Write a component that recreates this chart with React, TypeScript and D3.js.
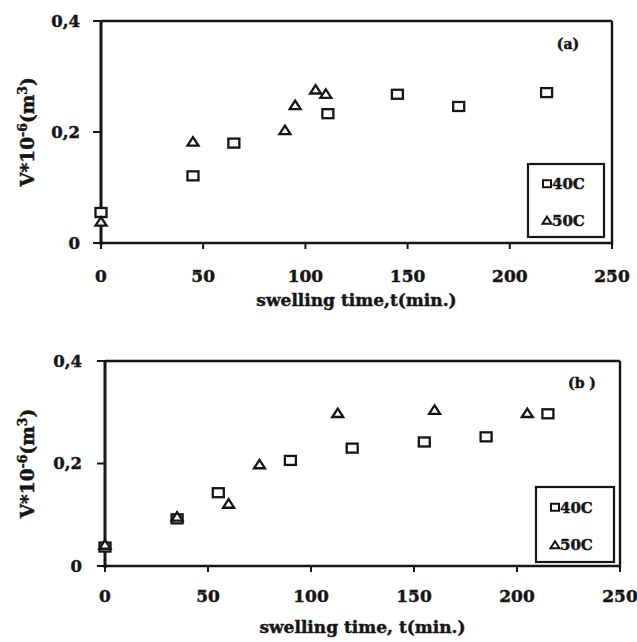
import React from "react";
import * as d3 from "d3";

const xTicks = [0, 50, 100, 150, 200, 250];
const yTicks = [0, 0.2, 0.4];

const timeA40 = [0, 45, 65, 111, 145, 175, 218];
const volA40 = [0.055, 0.121, 0.18, 0.233, 0.268, 0.246, 0.271];
const timeA50 = [0, 45, 90, 95, 105, 110];
const volA50 = [0.039, 0.183, 0.204, 0.249, 0.277, 0.269];

const timeB40 = [0, 35, 55, 90, 120, 155, 185, 215];
const volB40 = [0.037, 0.092, 0.143, 0.206, 0.23, 0.242, 0.252, 0.297];
const timeB50 = [0, 35, 60, 75, 113, 160, 205];
const volB50 = [0.042, 0.097, 0.122, 0.199, 0.299, 0.305, 0.299];

const seriesNames = ["40C", "50C"];

const FONT = "'DejaVu Serif', serif";
const INK = "#151515";
const TEXT_STROKE = 0.45;

type PanelProps = {
  left: number; right: number; top: number; bottom: number;
  t40: number[]; v40: number[]; t50: number[]; v50: number[];
  tag: string; tagX: number; tagY: number;
  title: string; titleY: number;
  xLabelY: number; yLabelRight: number; tickLen: number;
  legend: { x: number; y: number; w: number; h: number };
};

function fmt(v: number) {
  return v === 0 ? "0" : v.toFixed(1).replace(".", ",");
}

const textStyle = {
  fontFamily: FONT,
  fontWeight: "bold" as const,
  fill: INK,
  stroke: INK,
  strokeWidth: TEXT_STROKE,
};

function Square({ x, y, w, h, sw = 2.3 }: { x: number; y: number; w: number; h: number; sw?: number }) {
  return <rect x={x - w / 2} y={y - h / 2} width={w} height={h} fill="white" stroke={INK} strokeWidth={sw} />;
}

function Triangle({ x, y, w, h, sw = 2.3 }: { x: number; y: number; w: number; h: number; sw?: number }) {
  const p = d3.path();
  p.moveTo(x, y - h / 2);
  p.lineTo(x + w / 2, y + h / 2);
  p.lineTo(x - w / 2, y + h / 2);
  p.closePath();
  return <path d={p.toString()} fill="white" stroke={INK} strokeWidth={sw} strokeLinejoin="miter" />;
}

function Panel(props: PanelProps) {
  const { left, right, top, bottom } = props;
  const x = d3.scaleLinear().domain([0, 250]).range([left, right]);
  const y = d3.scaleLinear().domain([0, 0.4]).range([bottom, top]);
  const cx = (left + right) / 2;
  const cy = (top + bottom) / 2;
  const lg = props.legend;
  return (
    <g>
      <line x1={left} x2={right} y1={top} y2={top} stroke={INK} strokeWidth={2.4} />
      <line x1={right} x2={right} y1={top} y2={bottom + 2} stroke={INK} strokeWidth={2.4} />
      <line x1={left} x2={right} y1={bottom} y2={bottom} stroke={INK} strokeWidth={2.6} />
      <line x1={left} x2={left} y1={top} y2={bottom + 2} stroke={INK} strokeWidth={3} />
      {yTicks.map((t) => (
        <g key={"y" + t}>
          <line x1={left - props.tickLen} x2={left} y1={y(t)} y2={y(t)} stroke={INK} strokeWidth={2} />
          <text x={props.yLabelRight} y={y(t)} dy="0.36em" textAnchor="end" fontSize={16.5} style={textStyle}>
            {fmt(t)}
          </text>
        </g>
      ))}
      {xTicks.map((t) => (
        <g key={"x" + t}>
          <line x1={x(t)} x2={x(t)} y1={bottom} y2={bottom + 6} stroke={INK} strokeWidth={2} />
          <text x={x(t)} y={props.xLabelY} textAnchor="middle" fontSize={17} style={textStyle}>
            {t}
          </text>
        </g>
      ))}
      <text x={cx} y={props.titleY} textAnchor="middle" fontSize={17} style={textStyle}>
        {props.title}
      </text>
      <text transform={`translate(34,${cy}) rotate(-90)`} textAnchor="middle" fontSize={18.5} style={textStyle}>
        <tspan>V*10</tspan>
        <tspan dy={-7.5} fontSize={12.5}>-6</tspan>
        <tspan dy={7.5}>(m</tspan>
        <tspan dy={-7.5} fontSize={12.5}>3</tspan>
        <tspan dy={7.5}>)</tspan>
      </text>
      {props.t40.map((t, i) => (
        <Square key={"s" + i} x={x(t)} y={y(props.v40[i])} w={11} h={9} />
      ))}
      {props.t50.map((t, i) => (
        <Triangle key={"t" + i} x={x(t)} y={y(props.v50[i])} w={11} h={8.5} />
      ))}
      <text x={props.tagX} y={props.tagY} textAnchor="middle" fontSize={14} style={textStyle}>
        {props.tag}
      </text>
      <rect x={lg.x} y={lg.y} width={lg.w} height={lg.h} fill="white" stroke={INK} strokeWidth={2.2} />
      <Square x={lg.x + 19} y={lg.y + lg.h * 0.27} w={8} h={7} sw={2} />
      <text x={lg.x + 24} y={lg.y + lg.h * 0.27 + 5.5} fontSize={15} style={textStyle}>
        {seriesNames[0]}
      </text>
      <Triangle x={lg.x + 19} y={lg.y + lg.h * 0.77} w={9} h={7} sw={2} />
      <text x={lg.x + 24} y={lg.y + lg.h * 0.77 + 5.5} fontSize={15} style={textStyle}>
        {seriesNames[1]}
      </text>
    </g>
  );
}

export default function App() {
  return (
    <svg
      width={637}
      height={642}
      viewBox="0 0 637 642"
      style={{ position: "absolute", left: 0, top: 0, background: "white" }}
    >
      <rect x={0} y={0} width={637} height={642} fill="white" />
      <Panel
        left={101} right={612} top={21} bottom={243}
        t40={timeA40} v40={volA40} t50={timeA50} v50={volA50}
        tag="(a)" tagX={568} tagY={49}
        title="swelling time,t(min.)" titleY={306}
        xLabelY={282} yLabelRight={80} tickLen={8}
        legend={{ x: 528, y: 164, w: 76, h: 73 }}
      />
      <Panel
        left={105} right={620} top={361} bottom={566}
        t40={timeB40} v40={volB40} t50={timeB50} v50={volB50}
        tag="(b )" tagX={582} tagY={388}
        title="swelling time, t(min.)" titleY={633}
        xLabelY={602} yLabelRight={82} tickLen={8}
        legend={{ x: 536, y: 487, w: 78, h: 75 }}
      />
    </svg>
  );
}
